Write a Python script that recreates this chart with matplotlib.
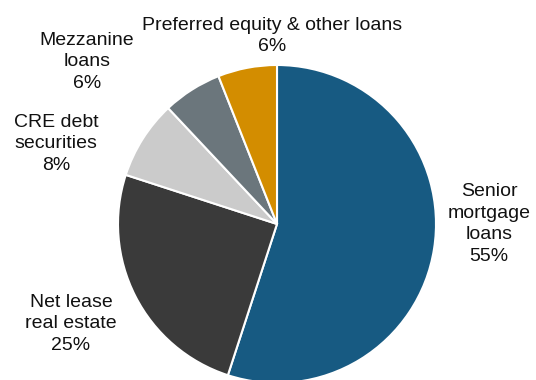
import matplotlib.pyplot as plt

labels = ["Senior\nmortgage\nloans", "Net lease\nreal estate", "CRE debt\nsecurities",
          "Mezzanine\nloans", "Preferred equity & other loans"]
shares = [55, 25, 8, 6, 6]
colors = ["#175a82", "#3a3a3a", "#cbcbcb", "#6b767c", "#d38d00"]
# label centres in pixels, measured from the top-left corner
label_xy = [(489, 224), (71, 324), (56, 144), (87, 62), (272, 36)]

W, H = 536, 380
plt.rcParams['font.family'] = ['Liberation Sans', 'DejaVu Sans']

fig = plt.figure(figsize=(W / 100, H / 100), dpi=100)
ax = fig.add_axes([0, 0, 1, 1])
ax.pie(shares, colors=colors, startangle=90, counterclock=False,
       center=(277, H - 224), radius=159,
       wedgeprops=dict(edgecolor="white", linewidth=1.5))
ax.set_xlim(0, W)
ax.set_ylim(0, H)
ax.set_aspect("equal")
ax.axis("off")

for lab, val, (x, y) in zip(labels, shares, label_xy):
    ax.text(x, H - y, f"{lab}\n{val}%", ha="center", va="center",
            fontsize=14, color="#111111", linespacing=1.36)

fig.savefig("out.png", dpi=100)
